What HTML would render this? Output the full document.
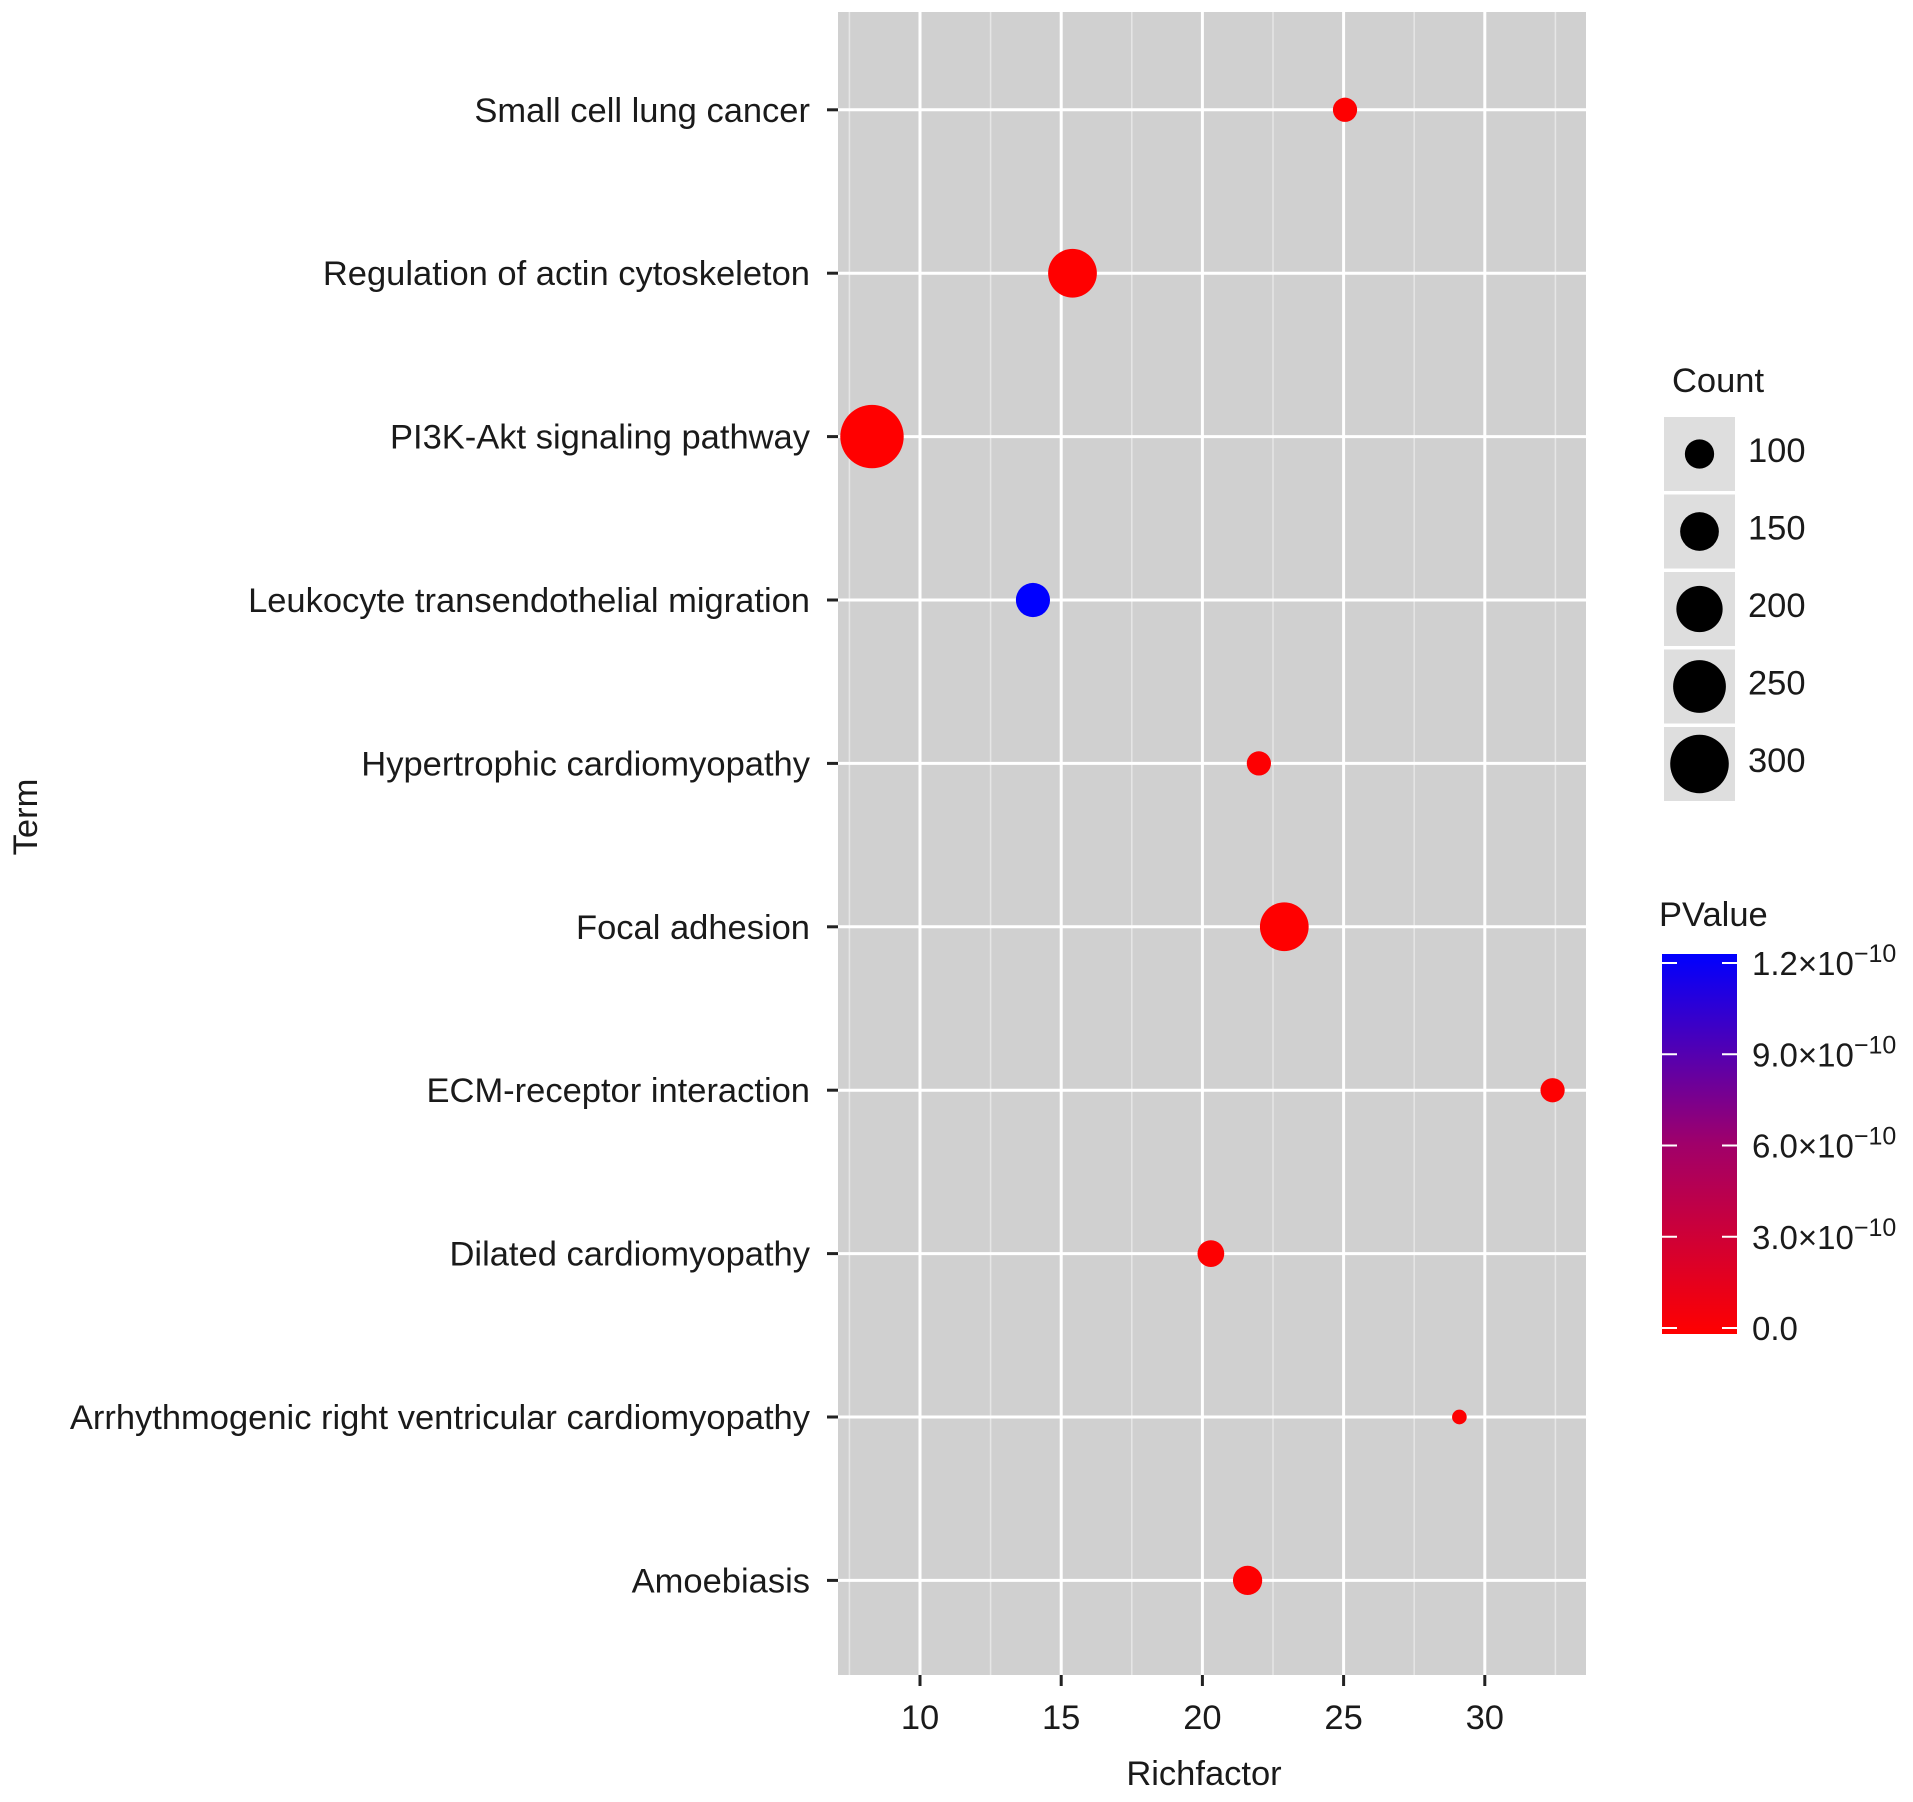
<!DOCTYPE html>
<html><head><meta charset="utf-8"><style>
html,body{margin:0;padding:0;background:#fff;}
svg text{font-family:"Liberation Sans",Arial,sans-serif;fill:#1a1a1a;}
</style></head><body>
<svg id="chart" width="1913" height="1797" viewBox="0 0 1913 1797" xmlns="http://www.w3.org/2000/svg">
<g id="panel"></g>
<g id="pts"></g>
<g id="axes"></g>
<g id="legend"></g>
</svg>
<script>
const terms = ["Small cell lung cancer","Regulation of actin cytoskeleton","PI3K-Akt signaling pathway","Leukocyte transendothelial migration","Hypertrophic cardiomyopathy","Focal adhesion","ECM-receptor interaction","Dilated cardiomyopathy","Arrhythmogenic right ventricular cardiomyopathy","Amoebiasis"];
const richfactor = [25.05, 15.4, 8.3, 14.0, 22.0, 22.9, 32.4, 20.3, 29.1, 21.6];
const counts = [79, 218, 346, 124, 79, 218, 79, 89, 50, 100];
const pvalues = [0.05, 0.02, 0.01, 12, 0.1, 0.02, 0.05, 0.05, 0.1, 0.05];
const xTicks = [10, 15, 20, 25, 30];
const sizeLegend = [100, 150, 200, 250, 300];
const colorTicks = [0, 3, 6, 9, 12];
const colorTickLabels = ["0.0","3.0×10","6.0×10","9.0×10","1.2×10"];

const NS = "http://www.w3.org/2000/svg";
function mk(tag, attrs, parent, txt){const e=document.createElementNS(NS,tag);for(const k in attrs)e.setAttribute(k,attrs[k]);if(txt!==undefined)e.textContent=txt;parent.appendChild(e);return e;}
const PL=838, PR=1586, PT=12, PB=1675;
const xs = v => 920 + (v-10)*28.24;
const ys = i => 109.8 + i*163.4;
const rs = c => Math.sqrt(Math.max(2.16*c-72, 4))*1.22;
function col(p){const t=Math.min(Math.max(p/12,0),1);return `rgb(${Math.round(255*(1-t))},0,${Math.round(255*t)})`;}

const panel=document.getElementById('panel');
let e=mk('rect',{x:PL,y:PT,width:PR-PL,height:PB-PT,fill:'#d0d0d0'},panel);


for(let v=7.5; v<=33.5; v+=5){
  e=mk('line',{x1:xs(v),x2:xs(v),y1:PT,y2:PB,stroke:'#e6e6e6','stroke-width':1.5},panel);
  
  
}
xTicks.forEach(v=>{
  e=mk('line',{x1:xs(v),x2:xs(v),y1:PT,y2:PB,stroke:'#fff','stroke-width':3},panel);
  
  
});
terms.forEach((t,i)=>{
  e=mk('line',{x1:PL,x2:PR,y1:ys(i),y2:ys(i),stroke:'#fff','stroke-width':3},panel);
  
  
});
const pts=document.getElementById('pts');
terms.forEach((t,i)=>{
  e=mk('circle',{cx:xs(richfactor[i]),cy:ys(i),r:rs(counts[i]),fill:col(pvalues[i])},pts);
  
  
});
const ax=document.getElementById('axes');
terms.forEach((t,i)=>{
  e=mk('line',{x1:827,x2:838,y1:ys(i),y2:ys(i),stroke:'#222','stroke-width':3},ax);
  
  
  e=mk('text',{x:810,y:ys(i)+12,'text-anchor':'end','font-size':34.5},ax,t);
  
  
});
xTicks.forEach(v=>{
  e=mk('line',{x1:xs(v),x2:xs(v),y1:PB,y2:PB+11,stroke:'#222','stroke-width':3},ax);
  
  
  e=mk('text',{x:xs(v),y:1729,'text-anchor':'middle','font-size':34.5},ax,String(v));
  
  
});
e=mk('text',{x:1204,y:1785,'text-anchor':'middle','font-size':34.5},ax,'Richfactor');


e=mk('text',{x:37,y:817,'text-anchor':'middle','font-size':34.5,transform:'rotate(-90 37 817)'},ax,'Term');



const lg=document.getElementById('legend');
e=mk('text',{x:1672,y:392,'font-size':34.5},lg,'Count');


sizeLegend.forEach((c,i)=>{
  const y0=417+i*77.5;
  e=mk('rect',{x:1664,y:y0,width:71,height:74,fill:'#dedede'},lg);
  
  
  e=mk('circle',{cx:1699.5,cy:y0+37,r:rs(c),fill:'#000'},lg);
  
  
  e=mk('text',{x:1748,y:y0+45,'font-size':34.5},lg,String(c));
  
  
});
e=mk('text',{x:1659,y:926,'font-size':34.5},lg,'PValue');


const defs=mk('defs',{},lg);
const gr=mk('linearGradient',{id:'cg',x1:0,y1:1,x2:0,y2:0},defs);
mk('stop',{offset:0,'stop-color':'#ff0000'},gr);
mk('stop',{offset:0.5,'stop-color':'#a0006a'},gr);
mk('stop',{offset:1,'stop-color':'#0000ff'},gr);
const CB0=1334, CB1=954;
e=mk('rect',{x:1662,y:CB1,width:75,height:CB0-CB1,fill:'url(#cg)'},lg);


const cy = v => CB0-6 - (v/12)*(CB0-CB1-15);
colorTicks.forEach((v,i)=>{
  const y=cy(v);
  e=mk('line',{x1:1662,x2:1677,y1:y,y2:y,stroke:'#fff','stroke-width':2},lg);
  
  
  e=mk('line',{x1:1722,x2:1737,y1:y,y2:y,stroke:'#fff','stroke-width':2},lg);
  
  
  const t=mk('text',{x:1752,y:y+12,'font-size':33},lg,colorTickLabels[i]);
  if(v!==0){mk('tspan',{dy:-13,'font-size':25},t,'−10');}
  
  
});
</script>
</body></html>
